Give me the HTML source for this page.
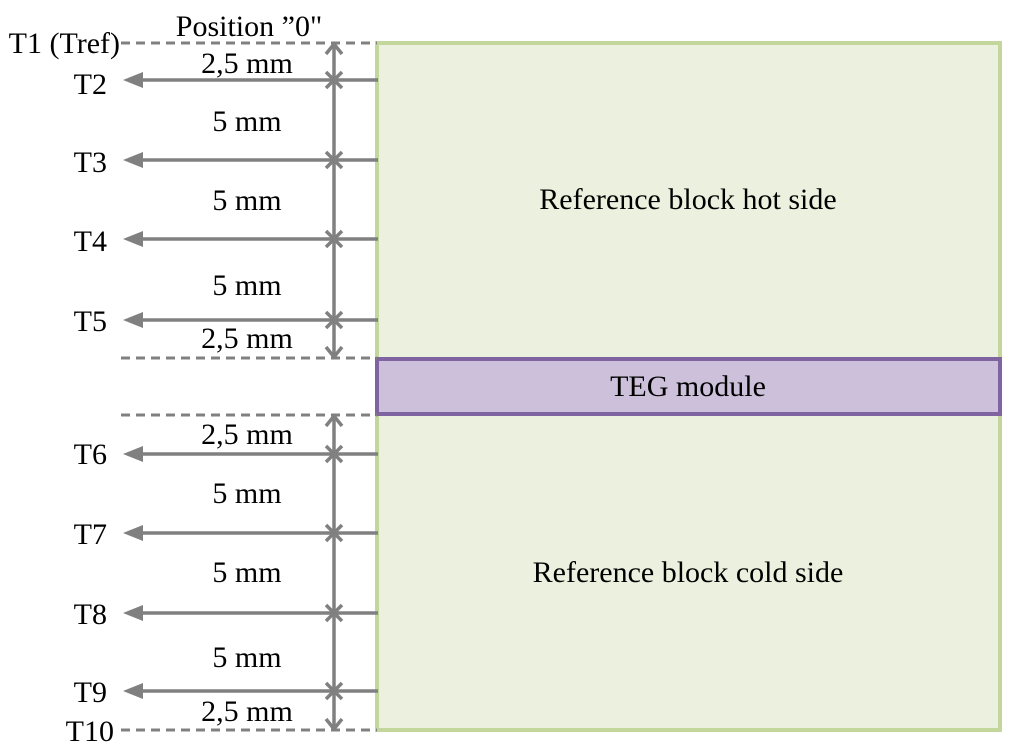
<!DOCTYPE html>
<html><head><style>
html,body{margin:0;padding:0;background:#fff;}
svg{display:block;}
text{font-family:"Liberation Serif",serif;font-size:30px;fill:#000;}
</style></head><body>
<svg width="1024" height="746" viewBox="0 0 1024 746" xmlns="http://www.w3.org/2000/svg">
<defs>
<g id="arr"><polygon points="0,0 20,-8 20,8" fill="#808080"/></g>
</defs>
<rect x="377" y="43" width="623" height="687" fill="#ebf1de" stroke="#c3d69b" stroke-width="4"/>
<rect x="377" y="359" width="623" height="55" fill="#ccc0da" stroke="#8064a2" stroke-width="4"/>
<text x="688" y="209" text-anchor="middle">Reference block hot side</text>
<text x="688" y="582" text-anchor="middle">Reference block cold side</text>
<text x="688" y="396" text-anchor="middle">TEG module</text>
<g stroke="#808080" stroke-width="3" stroke-dasharray="9,6" fill="none">
<line x1="121" y1="43" x2="377" y2="43"/>
<line x1="121" y1="358" x2="377" y2="358"/>
<line x1="121" y1="415" x2="377" y2="415"/>
<line x1="121" y1="730" x2="377" y2="730"/>
</g>
<g stroke="#808080" stroke-width="3.5" fill="none">
<line x1="334" y1="44" x2="334" y2="357"/>
<line x1="334" y1="416" x2="334" y2="729"/>
<polyline points="326,54 334,44 342,54"/>
<polyline points="326,347 334,357 342,347"/>
<polyline points="326,426 334,416 342,426"/>
<polyline points="326,719 334,729 342,719"/>
</g>
<g stroke="#808080" stroke-width="3.5" fill="none">
<line x1="138" y1="80" x2="378" y2="80"/>
<line x1="138" y1="160" x2="378" y2="160"/>
<line x1="138" y1="239" x2="378" y2="239"/>
<line x1="138" y1="320" x2="378" y2="320"/>
<line x1="138" y1="454" x2="378" y2="454"/>
<line x1="138" y1="533" x2="378" y2="533"/>
<line x1="138" y1="613" x2="378" y2="613"/>
<line x1="138" y1="691" x2="378" y2="691"/>
<path d="M326,72 l16,16 M342,72 l-16,16 M326,152 l16,16 M342,152 l-16,16 M326,231 l16,16 M342,231 l-16,16 M326,312 l16,16 M342,312 l-16,16 M326,446 l16,16 M342,446 l-16,16 M326,525 l16,16 M342,525 l-16,16 M326,605 l16,16 M342,605 l-16,16 M326,683 l16,16 M342,683 l-16,16"/>
</g>
<use href="#arr" x="123" y="80"/>
<use href="#arr" x="123" y="160"/>
<use href="#arr" x="123" y="239"/>
<use href="#arr" x="123" y="320"/>
<use href="#arr" x="123" y="454"/>
<use href="#arr" x="123" y="533"/>
<use href="#arr" x="123" y="613"/>
<use href="#arr" x="123" y="691"/>
<text x="249" y="36" text-anchor="middle">Position ”0"</text>
<text x="120" y="53" text-anchor="end">T1 (Tref)</text>
<text x="107" y="94" text-anchor="end">T2</text>
<text x="107" y="172" text-anchor="end">T3</text>
<text x="107" y="251" text-anchor="end">T4</text>
<text x="107" y="331" text-anchor="end">T5</text>
<text x="107" y="464" text-anchor="end">T6</text>
<text x="107" y="544" text-anchor="end">T7</text>
<text x="107" y="624" text-anchor="end">T8</text>
<text x="107" y="702" text-anchor="end">T9</text>
<text x="114" y="741" text-anchor="end">T10</text>
<text x="247" y="73" text-anchor="middle">2,5 mm</text>
<text x="247" y="131" text-anchor="middle">5 mm</text>
<text x="247" y="210" text-anchor="middle">5 mm</text>
<text x="247" y="295" text-anchor="middle">5 mm</text>
<text x="247" y="348" text-anchor="middle">2,5 mm</text>
<text x="247" y="444" text-anchor="middle">2,5 mm</text>
<text x="247" y="503" text-anchor="middle">5 mm</text>
<text x="247" y="582" text-anchor="middle">5 mm</text>
<text x="247" y="667" text-anchor="middle">5 mm</text>
<text x="247" y="721" text-anchor="middle">2,5 mm</text>
</svg>
</body></html>
